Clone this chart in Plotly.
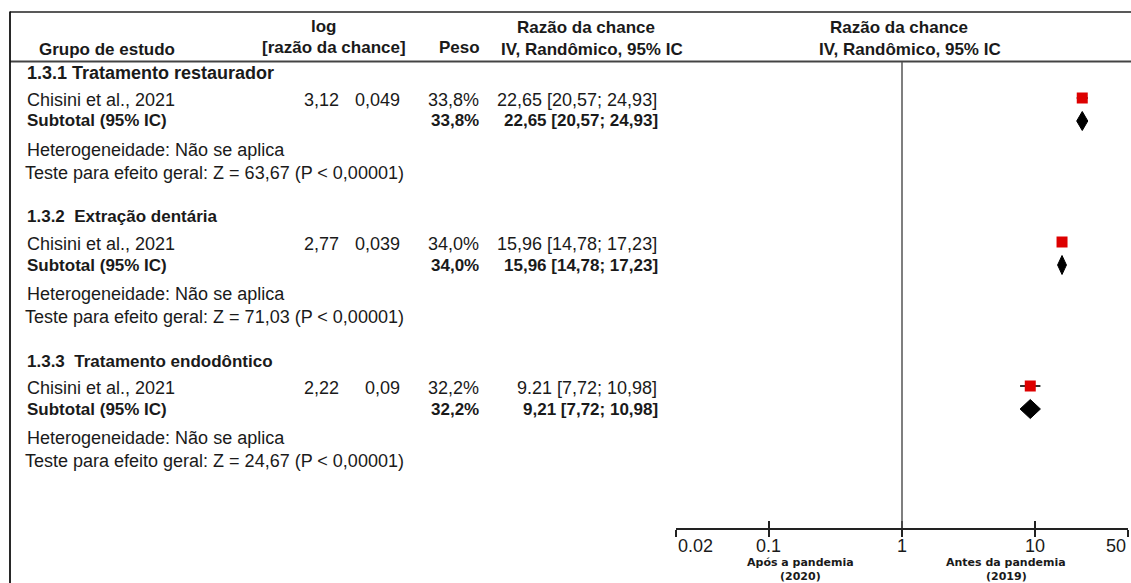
import math
import plotly.graph_objects as go

# ---------------- data ----------------
subgroups = ["1.3.1 Tratamento restaurador", "1.3.2  Extração dentária", "1.3.3  Tratamento endodôntico"]
studies = ["Chisini et al., 2021", "Chisini et al., 2021", "Chisini et al., 2021"]
log_or = ["3,12", "2,77", "2,22"]
se_log = ["0,049", "0,039", "0,09"]
weights = ["33,8%", "34,0%", "32,2%"]
or_est = [22.65, 15.96, 9.21]
ci_low = [20.57, 14.78, 7.72]
ci_high = [24.93, 17.23, 10.98]
or_text = ["22,65 [20,57; 24,93]", "15,96 [14,78; 17,23]", "9.21 [7,72; 10,98]"]
sub_or = [22.65, 15.96, 9.21]
sub_low = [20.57, 14.78, 7.72]
sub_high = [24.93, 17.23, 10.98]
sub_text = ["22,65 [20,57; 24,93]", "15,96 [14,78; 17,23]", "9,21 [7,72; 10,98]"]
z_vals = ["63,67", "71,03", "24,67"]
tick_vals = [0.02, 0.1, 1, 10, 50]
tick_text = ["0.02", "0.1", "1", "10", "50"]

# ---------------- layout constants (pixels, page coordinates) ----------------
W, H = 1131, 583
AX_Y = 528
BLOCK_TOP = [73, 217, 361]
FONT = "Liberation Sans, Arial, sans-serif"
TXT = "#1a1a1a"
REG = 18
BLD = 17
TICK_ANCHOR = ["left", "center", "center", "center", "right"]


def px(x):
    return x / W


def py(y):
    return 1 - y / H


fig = go.Figure()
annotations = []


def txt(x, y, s, anchor="left", size=REG, bold=False, family=FONT, color=TXT):
    annotations.append(dict(
        x=px(x), y=py(y), xref="paper", yref="paper",
        text=f"<b>{s}</b>" if bold else s, showarrow=False,
        xanchor=anchor, yanchor="middle",
        font=dict(family=family, size=size, color=color)))


# header
txt(37, 49, "Grupo de estudo", bold=True, size=BLD)
txt(324, 26, "log", anchor="center", bold=True, size=BLD)
txt(334, 48, "[razão da chance]", anchor="center", bold=True, size=BLD)
txt(482, 48, "Peso", anchor="right", bold=True, size=BLD)
txt(586, 28, "Razão da chance", anchor="center", bold=True, size=BLD)
txt(592, 49, "IV, Randômico, 95% IC", anchor="center", bold=True, size=BLD)
txt(899, 28, "Razão da chance", anchor="center", bold=True, size=BLD)
txt(910, 49, "IV, Randômico, 95% IC", anchor="center", bold=True, size=BLD)

for i, top in enumerate(BLOCK_TOP):
    txt(25, top, subgroups[i], bold=True, size=18 if i == 0 else BLD)
    txt(25, top + 27, studies[i])
    txt(341, top + 27, log_or[i], anchor="right")
    txt(402, top + 27, se_log[i], anchor="right")
    txt(481, top + 27, weights[i], anchor="right")
    txt(659, top + 27, or_text[i], anchor="right")
    txt(25, top + 48, "Subtotal (95% IC)", bold=True, size=BLD)
    txt(481, top + 48, weights[i], anchor="right", bold=True, size=BLD)
    txt(660, top + 48, sub_text[i], anchor="right", bold=True, size=BLD)
    txt(25, top + 77, "Heterogeneidade: Não se aplica")
    txt(23, top + 100, f"Teste para efeito geral: Z = {z_vals[i]} (P &lt; 0,00001)")

    # study CI whisker + square
    ys = top + 25
    fig.add_trace(go.Scatter(x=[ci_low[i], ci_high[i]], y=[ys, ys], mode="lines",
                             line=dict(color="black", width=1.6), hoverinfo="skip",
                             showlegend=False))
    fig.add_trace(go.Scatter(x=[or_est[i]], y=[ys], mode="markers",
                             marker=dict(symbol="square", size=11, color="#dd0000",
                                         line=dict(width=0)),
                             showlegend=False))
    # subtotal diamond
    yd = top + 48
    fig.add_trace(go.Scatter(x=[sub_low[i], sub_or[i], sub_high[i], sub_or[i], sub_low[i]],
                             y=[yd, yd - 9.5, yd, yd + 9.5, yd], mode="lines",
                             fill="toself", fillcolor="black",
                             line=dict(color="black", width=1), showlegend=False,
                             hoverinfo="skip"))

# tick labels (edge labels aligned inward, as in the reference)
for v, t, a in zip(tick_vals, tick_text, TICK_ANCHOR):
    annotations.append(dict(x=math.log10(v), y=py(546), xref="x", yref="paper",
                            text=t, showarrow=False, xanchor=a, yanchor="middle",
                            font=dict(family=FONT, size=18, color=TXT)))

# axis annotations
SMALL = "DejaVu Sans, Verdana, sans-serif"
txt(800, 562, "Após a pandemia", anchor="center", size=11, bold=True, family=SMALL)
txt(800, 576, "(2020)", anchor="center", size=11, bold=True, family=SMALL)
txt(1006, 562, "Antes da pandemia", anchor="center", size=11, bold=True, family=SMALL)
txt(1006, 576, "(2019)", anchor="center", size=11, bold=True, family=SMALL)

shapes = [
    dict(type="line", xref="paper", yref="paper", x0=px(10), x1=1, y0=py(12), y1=py(12),
         line=dict(color="#222", width=1.6)),
    dict(type="line", xref="paper", yref="paper", x0=px(10), x1=1, y0=py(61.5), y1=py(61.5),
         line=dict(color="#444", width=2.2)),
    dict(type="line", xref="paper", yref="paper", x0=px(10), x1=px(10), y0=py(11.5), y1=0,
         line=dict(color="#111", width=1.8)),
    dict(type="line", xref="x", yref="y", x0=1, x1=1, y0=62, y1=AX_Y,
         line=dict(color="#555", width=1.5)),
]

xr = [math.log10(tick_vals[0]), math.log10(tick_vals[-1])]
xdom = [px(676), px(1128)]
fig.update_layout(
    width=W, height=H, margin=dict(l=0, r=0, t=0, b=0, autoexpand=False),
    paper_bgcolor="white", plot_bgcolor="white",
    showlegend=False, annotations=annotations, shapes=shapes,
    xaxis=dict(type="log", range=xr, domain=xdom, anchor="y", automargin=False,
               showline=True, linecolor="#222", linewidth=1.6,
               showgrid=False, zeroline=False,
               tickvals=tick_vals, showticklabels=False,
               ticks="outside", ticklen=7, tickwidth=1.6, tickcolor="#222"),
    xaxis2=dict(type="log", range=xr, domain=xdom, anchor="y", overlaying="x",
                automargin=False, showline=False, showgrid=False, zeroline=False,
                tickvals=tick_vals, showticklabels=False,
                ticks="inside", ticklen=7, tickwidth=1.6, tickcolor="#222"),
    yaxis=dict(range=[AX_Y, 0], domain=[py(AX_Y), 1], visible=False,
               showgrid=False, automargin=False),
)
# dummy trace to activate xaxis2
fig.add_trace(go.Scatter(x=[1], y=[AX_Y], xaxis="x2", mode="markers",
                         marker=dict(opacity=0), hoverinfo="skip", showlegend=False))

fig.write_html("out.html",
               config={"displayModeBar": False, "staticPlot": True},
               post_script="document.body.style.margin='0';"
                           "document.body.style.overflow='hidden';")
